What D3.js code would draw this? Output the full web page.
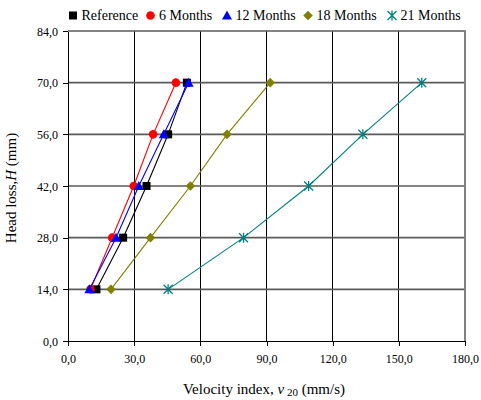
<!DOCTYPE html>
<html><head><meta charset="utf-8">
<script src="https://cdn.jsdelivr.net/npm/d3@7"></script>
<style>body{margin:0;background:#fff}svg{display:block}svg text{font-family:'Liberation Serif','Times New Roman',serif !important;fill:#000}</style>
</head><body><svg id="c" width="481" height="400"></svg>
<script>
const heads = [14, 28, 42, 56, 70];
const seriesNames = ["Reference", "6 Months", "12 Months", "18 Months", "21 Months"];
const reference = [12.9, 25.0, 35.6, 45.4, 53.9];
const months6 = [10.2, 20.0, 29.8, 38.6, 48.9];
const months12 = [9.7, 21.8, 32.1, 43.4, 54.7];
const months18 = [19.5, 37.4, 55.5, 72.1, 91.7];
const months21 = [45.4, 79.6, 109.1, 133.7, 160.4];
const xTicks = [0, 30, 60, 90, 120, 150, 180];
const yTicks = [0, 14, 28, 42, 56, 70, 84];

const colors = ["#000000", "#ff0000", "#0000ff", "#808000", "#008080"];
const shapes = ["square", "circle", "triangle", "diamond", "star"];
const allSeries = [reference, months6, months12, months18, months21];
const SERIF = "'Liberation Serif','Times New Roman',serif";

const svg = d3.select("#c");
const x = d3.scaleLinear().domain([0, 180]).range([68, 465]);
const y = d3.scaleLinear().domain([0, 84]).range([341, 31]);
const fmt = v => d3.format(".1f")(v).replace(".", ",");

// vertical gridlines
svg.append("g").attr("shape-rendering", "crispEdges").selectAll("line").data(xTicks.filter(t => t > 0 && t < 180)).join("line")
  .attr("x1", d => x(d)).attr("x2", d => x(d)).attr("y1", y(84)).attr("y2", y(0))
  .attr("stroke", "#000").attr("stroke-width", 1);
// horizontal gridlines
svg.append("g").selectAll("line").data(yTicks.filter(t => t > 0)).join("line")
  .attr("x1", x(0)).attr("x2", x(180)).attr("y1", d => y(d)).attr("y2", d => y(d))
  .attr("stroke", "#5a5a5a").attr("stroke-width", 1.6);
// right border
svg.append("line").attr("x1", x(180)).attr("x2", x(180)).attr("y1", y(84) - 0.8).attr("y2", y(0))
  .attr("stroke", "#808080").attr("stroke-width", 2);

// axes
const xAxis = svg.append("g").attr("transform", `translate(0,${y(0)})`)
  .call(d3.axisBottom(x).tickValues(xTicks).tickFormat(fmt).tickSize(5).tickSizeOuter(0));
const yAxis = svg.append("g").attr("transform", `translate(${x(0)},0)`)
  .call(d3.axisLeft(y).tickValues(yTicks).tickFormat(fmt).tickSize(5).tickSizeOuter(0));
[xAxis, yAxis].forEach(a => {
  a.attr("font-family", null).style("font-family", SERIF).attr("shape-rendering", "crispEdges");
  a.select(".domain").attr("stroke", "#000").attr("stroke-width", 1.2);
  a.selectAll(".tick line").attr("stroke", "#000");
  a.selectAll("text").style("font-family", SERIF).attr("font-size", 12).attr("fill", "#000");
});
xAxis.selectAll("text").attr("dy", "0").attr("y", 22);
yAxis.selectAll("text").attr("x", -10).attr("dy", "0.35em");

// axis titles
const xt = svg.append("text").attr("x", 264).attr("y", 394).attr("text-anchor", "middle")
  .style("font-family", SERIF).attr("font-size", 15);
xt.append("tspan").text("Velocity index, ");
xt.append("tspan").attr("font-style", "italic").text("v");
xt.append("tspan").attr("font-size", 11).attr("dy", 2).text(" 20");
xt.append("tspan").attr("dy", -2).text(" (mm/s)");

const yt = svg.append("text").attr("transform", `translate(16,${(y(0) + y(84)) / 2 + 2}) rotate(-90)`)
  .attr("text-anchor", "middle").style("font-family", SERIF).attr("font-size", 15);
yt.append("tspan").text("Head loss,");
yt.append("tspan").attr("font-style", "italic").text("H");
yt.append("tspan").text(" (mm)");

function marker(g, shape, color, cx, cy) {
  if (shape === "square") {
    g.append("rect").attr("x", cx - 4).attr("y", cy - 4).attr("width", 8).attr("height", 8).attr("fill", color);
  } else if (shape === "circle") {
    g.append("circle").attr("cx", cx).attr("cy", cy).attr("r", 4.3).attr("fill", color);
  } else if (shape === "triangle") {
    g.append("path").attr("d", `M${cx},${cy - 5}L${cx + 5},${cy + 4}L${cx - 5},${cy + 4}Z`).attr("fill", color);
  } else if (shape === "diamond") {
    g.append("path").attr("d", `M${cx},${cy - 4.8}L${cx + 4.8},${cy}L${cx},${cy + 4.8}L${cx - 4.8},${cy}Z`).attr("fill", color);
  } else {
    const r = 4.5;
    g.append("path").attr("d", `M${cx - r},${cy - r}L${cx + r},${cy + r}M${cx - r},${cy + r}L${cx + r},${cy - r}M${cx},${cy - r - 0.5}L${cx},${cy + r + 0.5}`)
      .attr("stroke", color).attr("stroke-width", 1.3).attr("fill", "none");
  }
}

const line = d3.line().x(d => x(d[0])).y(d => y(d[1]));
allSeries.forEach((vals, i) => {
  const pts = vals.map((v, j) => [v, heads[j]]);
  const g = svg.append("g");
  g.append("path").attr("d", line(pts)).attr("fill", "none").attr("stroke", colors[i]).attr("stroke-width", 1.1);
  pts.forEach(p => marker(g, shapes[i], colors[i], x(p[0]), y(p[1])));
});

// legend
const legendX = [73, 150.5, 227, 308, 392];
const lg = svg.append("g");
seriesNames.forEach((name, i) => {
  marker(lg, shapes[i], colors[i], legendX[i], 15.5);
  lg.append("text").attr("x", legendX[i] + 8.5).attr("y", 20).style("font-family", SERIF).attr("font-size", 14).text(name);
});
</script></body></html>
